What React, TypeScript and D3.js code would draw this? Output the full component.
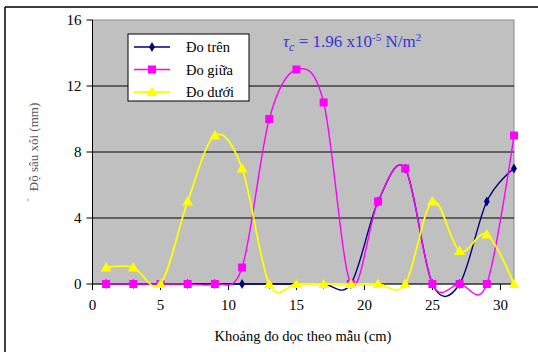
import React from "react";
import * as d3 from "d3";

const xPositions = [1, 3, 5, 7, 9, 11, 13, 15, 17, 19, 21, 23, 25, 27, 29, 31];
const doTren = [0, 0, 0, 0, 0, 0, 0, 0, 0, 0, 5, 7, 0, 0, 5, 7];
const doGiua = [0, 0, 0, 0, 0, 1, 10, 13, 11, 0, 5, 7, 0, 0, 0, 9];
const doDuoi = [1, 1, 0, 5, 9, 7, 0, 0, 0, 0, 0, 0, 5, 2, 3, 0];
const seriesNames = ["Đo trên", "Đo giữa", "Đo dưới"];
const yTicks = [0, 4, 8, 12, 16];
const xTicks = [0, 5, 10, 15, 20, 25, 30];

const W = 538, H = 352;
const L = 92.5, R = 514, T = 20, B = 284;

export default function App() {
  const x = d3.scaleLinear().domain([0, 31]).range([L, R]);
  const y = d3.scaleLinear().domain([0, 16]).range([B, T]);
  const line = d3
    .line<[number, number]>()
    .x((d) => x(d[0]))
    .y((d) => y(d[1]))
    .curve(d3.curveCardinal.tension(0));

  const series = [
    { name: seriesNames[0], values: doTren, color: "#000080", width: 1.4, marker: "diamond" },
    { name: seriesNames[1], values: doGiua, color: "#ff00ff", width: 1.4, marker: "square" },
    { name: seriesNames[2], values: doDuoi, color: "#ffff00", width: 1.8, marker: "triangle" },
  ];

  const marker = (type: string, cx: number, cy: number, color: string, key: string) => {
    if (type === "diamond") {
      const s = d3.symbol(d3.symbolDiamond, 30)();
      return <path key={key} d={s || ""} transform={`translate(${cx},${cy})`} fill={color} />;
    }
    if (type === "square") {
      return <rect key={key} x={cx - 4} y={cy - 4} width={8} height={8} fill={color} />;
    }
    return (
      <path
        key={key}
        d={`M${cx},${cy - 5.5}L${cx + 5.5},${cy + 4}L${cx - 5.5},${cy + 4}Z`}
        fill={color}
      />
    );
  };

  const serif = "'Liberation Serif', 'Times New Roman', serif";

  return (
    <svg
      width={W}
      height={H}
      style={{ position: "absolute", left: 0, top: 0 }}
      fontFamily={serif}
    >
      <rect x={0} y={0} width={W} height={H} fill="#ffffff" />
      {/* outer frame */}
      <line x1={5} y1={7} x2={W} y2={7} stroke="#000" strokeWidth={1.5} />
      <line x1={5} y1={7} x2={5} y2={H} stroke="#000" strokeWidth={1.5} />

      {/* plot area */}
      <rect x={L} y={T} width={R - L} height={B - T} fill="#c0c0c0" stroke="#8a8a8a" strokeWidth={1} />
      {yTicks.filter((t) => t > 0 && t < 16).map((t) => (
        <line key={"g" + t} x1={L} x2={R} y1={y(t)} y2={y(t)} stroke="#000" strokeWidth={1} />
      ))}

      {/* axes */}
      <line x1={L} x2={L} y1={T} y2={B} stroke="#000" strokeWidth={1} />
      <line x1={L} x2={R} y1={B} y2={B} stroke="#000" strokeWidth={1} />
      {yTicks.map((t) => (
        <g key={"yt" + t}>
          <line x1={L - 6} x2={L} y1={y(t)} y2={y(t)} stroke="#000" />
          <text x={L - 11} y={y(t) + 5} textAnchor="end" fontSize={15} fill="#000">
            {t}
          </text>
        </g>
      ))}
      {xTicks.map((t) => (
        <g key={"xt" + t}>
          <line x1={x(t)} x2={x(t)} y1={B} y2={B + 6} stroke="#000" />
          <text x={x(t)} y={B + 26} textAnchor="middle" fontSize={15} fill="#000">
            {t}
          </text>
        </g>
      ))}

      {/* series */}
      {series.map((s, i) => {
        const pts = xPositions.map((xv, j) => [xv, s.values[j]] as [number, number]);
        return (
          <g key={"s" + i}>
            <path d={line(pts) || ""} fill="none" stroke={s.color} strokeWidth={s.width} />
            {pts.map((p, j) => marker(s.marker, x(p[0]), y(p[1]), s.color, `m${i}-${j}`))}
          </g>
        );
      })}

      {/* legend */}
      <rect x={128} y={34} width={121} height={67} fill="#ffffff" stroke="#000" strokeWidth={1} />
      {series.map((s, i) => {
        const ly = 47 + i * 22.5;
        return (
          <g key={"l" + i}>
            <line x1={134} x2={170} y1={ly} y2={ly} stroke={s.color} strokeWidth={s.width} />
            {marker(s.marker, 152, ly, s.color, "lm" + i)}
            <text x={186} y={ly + 5} fontSize={14.5} fill="#000">
              {s.name}
            </text>
          </g>
        );
      })}

      {/* annotation */}
      <text x={283} y={47} fontSize={17} fill="#3535d8">
        <tspan fontStyle="italic">τ</tspan>
        <tspan fontStyle="italic" fontSize={12} dy={4}>c</tspan>
        <tspan dy={-4}> = 1.96 x10</tspan>
        <tspan fontSize={11} dy={-6}>-5</tspan>
        <tspan dy={6}> N/m</tspan>
        <tspan fontSize={11} dy={-6}>2</tspan>
      </text>

      {/* axis titles */}
      <text
        transform={`translate(38,147) rotate(-90)`}
        textAnchor="middle"
        fontSize={13}
        fill="#555"
      >
        Độ sâu xói (mm)
      </text>
      <text x={27} y={206} fontSize={11} fill="#777">'</text>
      <text x={303} y={341} textAnchor="middle" fontSize={14.5} fill="#000">
        Khoảng đo dọc theo mẫu (cm)
      </text>
    </svg>
  );
}
